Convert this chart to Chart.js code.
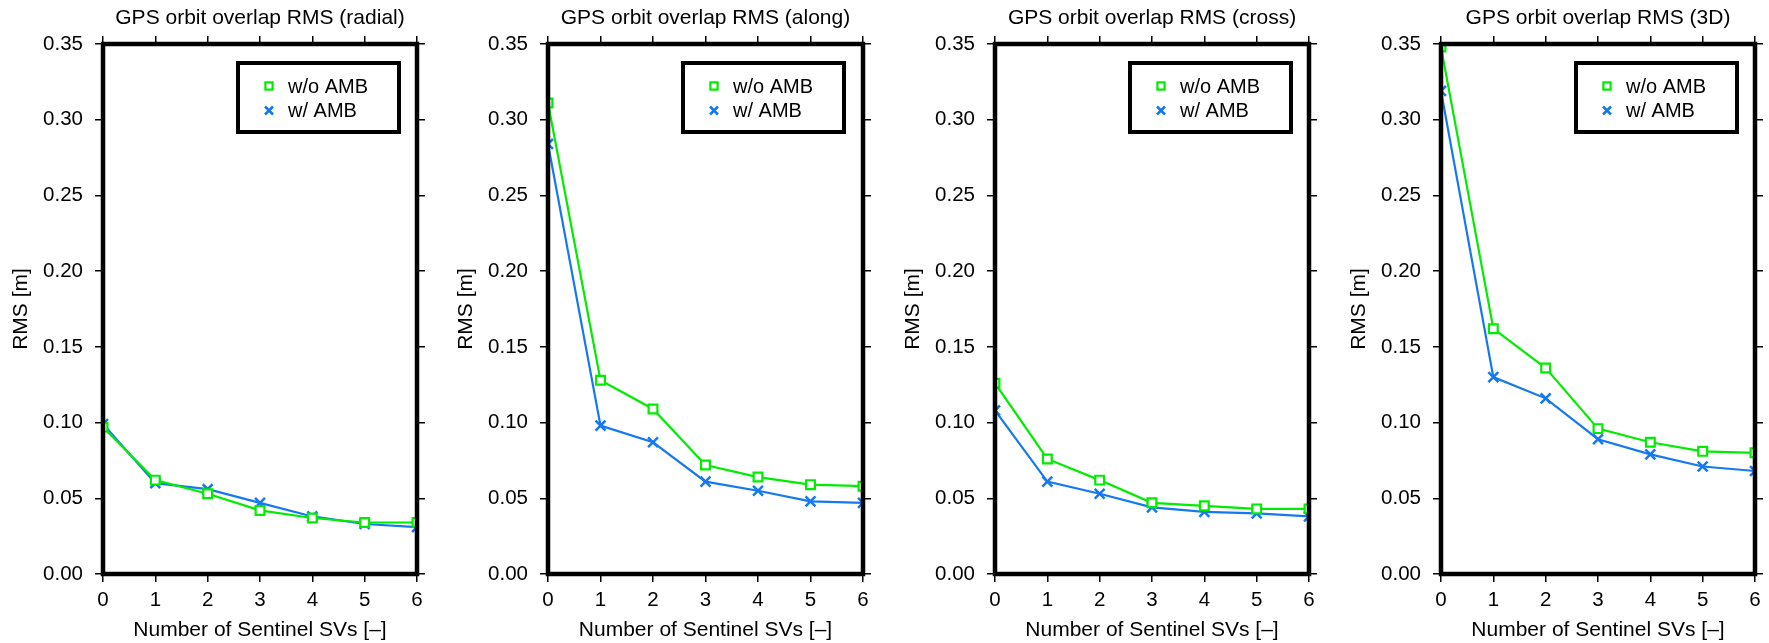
<!DOCTYPE html>
<html><head><meta charset="utf-8">
<script src="https://cdn.jsdelivr.net/npm/chart.js@4/dist/chart.umd.min.js"></script>
<style>
html,body{margin:0;padding:0;background:#fff;width:1769px;height:643px;overflow:hidden}
.panel{position:absolute;top:0;width:442px;height:643px}
canvas{display:block}
</style></head><body>
<div class="panel" style="left:0px"><canvas id="c0" width="442" height="643"></canvas></div>
<div class="panel" style="left:445px"><canvas id="c1" width="442" height="643"></canvas></div>
<div class="panel" style="left:892px"><canvas id="c2" width="442" height="643"></canvas></div>
<div class="panel" style="left:1338px"><canvas id="c3" width="442" height="643"></canvas></div>
<script>
// ---- data ----
const xCategories = ['0', '1', '2', '3', '4', '5', '6'];
const yTicks = ['0.00', '0.05', '0.10', '0.15', '0.20', '0.25', '0.30', '0.35'];
const panelTitles = [
  'GPS orbit overlap RMS (radial)',
  'GPS orbit overlap RMS (along)',
  'GPS orbit overlap RMS (cross)',
  'GPS orbit overlap RMS (3D)'
];
const seriesNames = ['w/o AMB', 'w/ AMB'];
const xTitle = 'Number of Sentinel SVs [–]';
const yTitle = 'RMS [m]';

const radialWithout = [0.097, 0.062, 0.053, 0.042, 0.037, 0.034, 0.034];
const radialWith    = [0.099, 0.060, 0.056, 0.047, 0.038, 0.033, 0.031];
const alongWithout  = [0.311, 0.128, 0.109, 0.072, 0.064, 0.059, 0.058];
const alongWith     = [0.284, 0.098, 0.087, 0.061, 0.055, 0.048, 0.047];
const crossWithout  = [0.126, 0.076, 0.062, 0.047, 0.045, 0.043, 0.043];
const crossWith     = [0.108, 0.061, 0.053, 0.044, 0.041, 0.040, 0.038];
const threeDWithout = [0.348, 0.162, 0.136, 0.096, 0.087, 0.081, 0.080];
const threeDWith    = [0.319, 0.130, 0.116, 0.089, 0.079, 0.071, 0.068];

const panelSeries = [
  [radialWithout, radialWith],
  [alongWithout, alongWith],
  [crossWithout, crossWith],
  [threeDWithout, threeDWith]
];

// ---- styles ----
const FONT = '"Liberation Sans", Arial, Helvetica, sans-serif';
const GREEN = '#00ec00';
const BLUE = '#1479f0';
const plotWidths = [314, 315, 314, 314];
const CANVAS_W = 442, LEFT_W = 103, TOP_H = 44, BOTTOM_H = 69;

const framePlugin = {
  id: 'frame',
  afterDatasetsDraw(chart) {
    const {ctx, chartArea: a} = chart;
    ctx.save();
    ctx.lineWidth = 4.5;
    ctx.strokeStyle = '#000';
    ctx.lineJoin = 'miter';
    ctx.strokeRect(a.left, a.top, a.right - a.left, a.bottom - a.top);
    ctx.restore();
  }
};

const boxLegend = {
  id: 'boxLegend',
  afterDraw(chart) {
    const {ctx, chartArea: a} = chart;
    ctx.save();
    const x0 = a.left + 135, y0 = a.top + 19, w = 161, h = 69;
    ctx.fillStyle = '#fff';
    ctx.fillRect(x0, y0, w, h);
    ctx.lineWidth = 4;
    ctx.strokeStyle = '#000';
    ctx.strokeRect(x0, y0, w, h);
    chart.data.datasets.forEach((ds, i) => {
      const cx = a.left + 166;
      const cy = a.top + 42 + i * 24.5;
      ctx.strokeStyle = ds.borderColor;
      if (ds.pointStyle === 'rect') {
        ctx.lineWidth = 2.2;
        ctx.strokeRect(cx - 3.6, cy - 3.6, 7.2, 7.2);
      } else {
        ctx.lineWidth = 2.6;
        ctx.beginPath();
        ctx.moveTo(cx - 4, cy - 4); ctx.lineTo(cx + 4, cy + 4);
        ctx.moveTo(cx + 4, cy - 4); ctx.lineTo(cx - 4, cy + 4);
        ctx.stroke();
      }
      ctx.fillStyle = '#000';
      ctx.font = '20px ' + FONT;
      ctx.textAlign = 'left';
      ctx.textBaseline = 'middle';
      ctx.fillText(ds.label, a.left + 185, cy + 1);
    });
    ctx.restore();
  }
};

function gridOpts() {
  return {display: true, drawOnChartArea: false, drawTicks: true, tickLength: 8,
          color: '#000', tickColor: '#000', lineWidth: 1.5, tickWidth: 1.5};
}

panelSeries.forEach((series, p) => {
  const rightW = CANVAS_W - LEFT_W - plotWidths[p];
  new Chart(document.getElementById('c' + p), {
    type: 'line',
    data: {
      labels: xCategories,
      datasets: [
        {label: seriesNames[0], data: series[0], borderColor: GREEN, backgroundColor: GREEN,
         borderWidth: 2.2, pointStyle: 'rect', pointRadius: 6.2, pointBorderWidth: 2.2,
         pointBackgroundColor: '#fff', pointBorderColor: GREEN, tension: 0, clip: 0},
        {label: seriesNames[1], data: series[1], borderColor: BLUE, backgroundColor: BLUE,
         borderWidth: 2.2, pointStyle: 'crossRot', pointRadius: 7, pointBorderWidth: 2.5,
         pointBorderColor: BLUE, tension: 0, clip: 0}
      ]
    },
    options: {
      responsive: false,
      animation: false,
      devicePixelRatio: 1,
      layout: {padding: 0},
      plugins: {legend: {display: false}, tooltip: {enabled: false}, title: {display: false}},
      scales: {
        x: {
          type: 'category', position: 'bottom',
          grid: gridOpts(), border: {display: false},
          ticks: {color: '#000', font: {family: FONT, size: 20.5}, padding: 6.5,
                  autoSkip: false, maxRotation: 0},
          title: {display: true, text: xTitle, color: '#000', font: {family: FONT, size: 21}, padding: 0},
          afterFit(s) { s.height = BOTTOM_H; }
        },
        x2: {
          type: 'category', position: 'top',
          grid: gridOpts(), border: {display: false},
          ticks: {display: false},
          title: {display: true, text: panelTitles[p], color: '#000', font: {family: FONT, size: 21}, padding: 6},
          afterFit(s) { s.height = TOP_H; }
        },
        y: {
          type: 'linear', position: 'left', min: 0, max: 0.35,
          grid: gridOpts(), border: {display: false},
          ticks: {stepSize: 0.05, color: '#000', font: {family: FONT, size: 20.5}, padding: 12,
                  callback: (v, i) => yTicks[i]},
          title: {display: true, text: yTitle, color: '#000', font: {family: FONT, size: 21}, padding: 9},
          afterFit(s) { s.width = LEFT_W; }
        },
        y2: {
          type: 'linear', position: 'right', min: 0, max: 0.35,
          grid: gridOpts(), border: {display: false},
          ticks: {display: false, stepSize: 0.05},
          afterFit(s) { s.width = rightW; }
        }
      }
    },
    plugins: [framePlugin, boxLegend]
  });
});
</script>
</body></html>
